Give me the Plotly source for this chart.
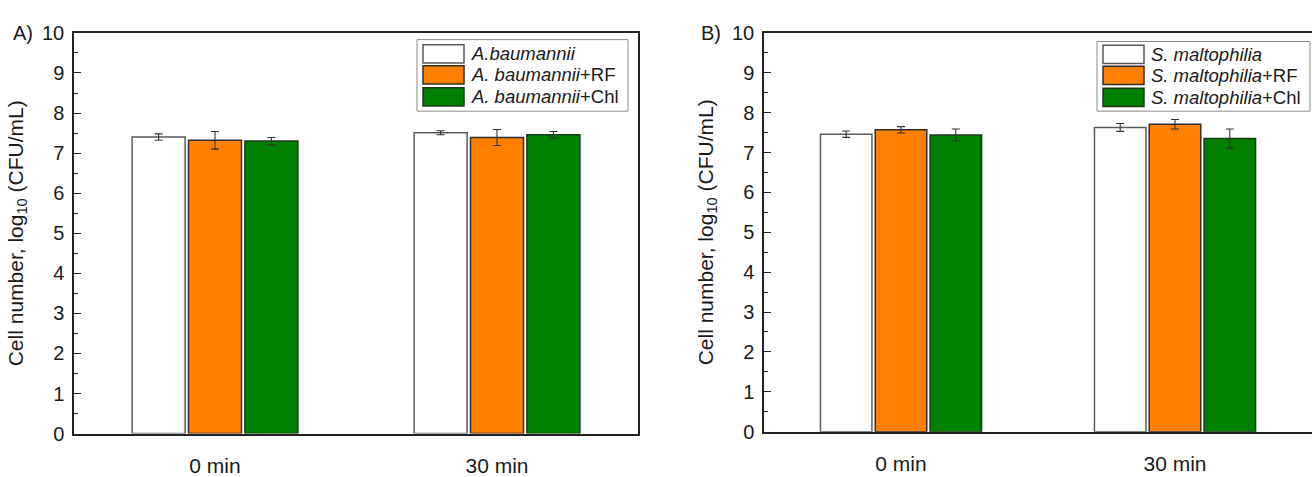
import plotly.graph_objects as go

W, H = 1312, 477

categories = ["0 min", "30 min"]

names_A = ["<i>A.baumannii</i>", "<i>A. baumannii</i>+RF", "<i>A. baumannii</i>+Chl"]
A_control = [7.40, 7.51]
A_control_err = [0.08, 0.05]
A_rf = [7.32, 7.39]
A_rf_err = [0.22, 0.20]
A_chl = [7.30, 7.46]
A_chl_err = [0.09, 0.08]

names_B = ["<i>S. maltophilia</i>", "<i>S. maltophilia</i>+RF", "<i>S. maltophilia</i>+Chl"]
B_control = [7.46, 7.63]
B_control_err = [0.08, 0.10]
B_rf = [7.57, 7.71]
B_rf_err = [0.08, 0.12]
B_chl = [7.44, 7.35]
B_chl_err = [0.15, 0.24]

fill_colors = ["#FFFFFF", "#FF8000", "#008000"]
edge_colors = ["#5a5a5a", "#2e2e2e", "#1e3a1e"]
y_title = "Cell number, log<sub>10</sub> (CFU/mL)"
FONT = "Liberation Sans, Arial, sans-serif"
TXT = "#1a1a1a"


def px_x(p):
    return p / W


def px_y(p):
    return 1 - p / H


fig = go.Figure()

panels = [
    ("x", "y", names_A, [A_control, A_rf, A_chl], [A_control_err, A_rf_err, A_chl_err]),
    ("x2", "y2", names_B, [B_control, B_rf, B_chl], [B_control_err, B_rf_err, B_chl_err]),
]
for xa, ya, names, vals, errs in panels:
    for i in range(3):
        fig.add_trace(go.Bar(
            x=categories, y=vals[i], name=names[i], xaxis=xa, yaxis=ya,
            marker=dict(color=fill_colors[i], line=dict(color=edge_colors[i], width=1.5)),
            error_y=dict(type="data", array=errs[i], visible=True,
                         color="#333333", thickness=1.1, width=4),
            showlegend=False,
        ))

axis_common = dict(showline=True, linecolor="#222222", linewidth=1.5,
                   showgrid=False, zeroline=False, fixedrange=True)

fig.update_layout(
    width=W, height=H,
    margin=dict(l=0, r=0, t=0, b=0),
    paper_bgcolor="white", plot_bgcolor="white",
    barmode="group", bargap=0.4, bargroupgap=0.06,
    showlegend=False,
    font=dict(family=FONT, color=TXT, size=19),
    xaxis=dict(domain=[px_x(74), px_x(638)], anchor="y", type="category",
               range=[-0.5, 1.5], mirror=True, ticks="", ticklabelstandoff=12,
               tickfont=dict(size=21), **axis_common),
    yaxis=dict(domain=[px_y(443), px_y(23)], anchor="x", range=[0, 10], dtick=1,
               ticks="inside", ticklen=7, tickwidth=1.2, tickcolor="#222222",
               minor=dict(ticks="inside", ticklen=4, dtick=0.5, tickcolor="#222222"),
               mirror=True, ticklabelstandoff=4, tickfont=dict(size=20),
               title=dict(text=y_title, font=dict(size=21), standoff=13), **axis_common),
    xaxis2=dict(domain=[px_x(764), 1.0], anchor="y2", type="category",
                range=[-0.5, 1.5], mirror=True, ticks="", ticklabelstandoff=12,
                tickfont=dict(size=21), **axis_common),
    yaxis2=dict(domain=[px_y(441), px_y(23)], anchor="x2", range=[0, 10], dtick=1,
                ticks="inside", ticklen=7, tickwidth=1.2, tickcolor="#222222",
                minor=dict(ticks="inside", ticklen=4, dtick=0.5, tickcolor="#222222"),
                mirror=False, ticklabelstandoff=4, tickfont=dict(size=20),
                title=dict(text=y_title, font=dict(size=21), standoff=13), **axis_common),
)

# Panel labels
fig.add_annotation(text="A)", x=px_x(11), y=px_y(23), xref="paper", yref="paper",
                   xanchor="left", yanchor="middle", showarrow=False, font=dict(size=20))
fig.add_annotation(text="B)", x=px_x(699), y=px_y(23), xref="paper", yref="paper",
                   xanchor="left", yanchor="middle", showarrow=False, font=dict(size=20))

# Custom legends (boxes with large swatches as in the reference)
legend_specs = [
    (names_A, 417, 628, 30, 105, 423, [45, 67, 90]),
    (names_B, 1097, 1310, 32, 105, 1103, [45.5, 67.5, 90.5]),
]
for names, bx0, bx1, by0, by1, sx0, rows in legend_specs:
    fig.add_shape(type="rect", xref="paper", yref="paper",
                  x0=px_x(bx0), x1=px_x(bx1), y0=px_y(by1), y1=px_y(by0),
                  line=dict(color="#8a8a8a", width=1), fillcolor="white", layer="above")
    for i, name in enumerate(names):
        cy = rows[i]
        fig.add_shape(type="rect", xref="paper", yref="paper",
                      x0=px_x(sx0), x1=px_x(sx0 + 41), y0=px_y(cy + 9.5), y1=px_y(cy - 9.5),
                      line=dict(color=edge_colors[i], width=1.5), fillcolor=fill_colors[i],
                      layer="above")
        fig.add_annotation(text=name, x=px_x(sx0 + 46), y=px_y(cy), xref="paper", yref="paper",
                           xanchor="left", yanchor="middle", showarrow=False,
                           font=dict(size=18.5))

fig.write_html("out.html")
